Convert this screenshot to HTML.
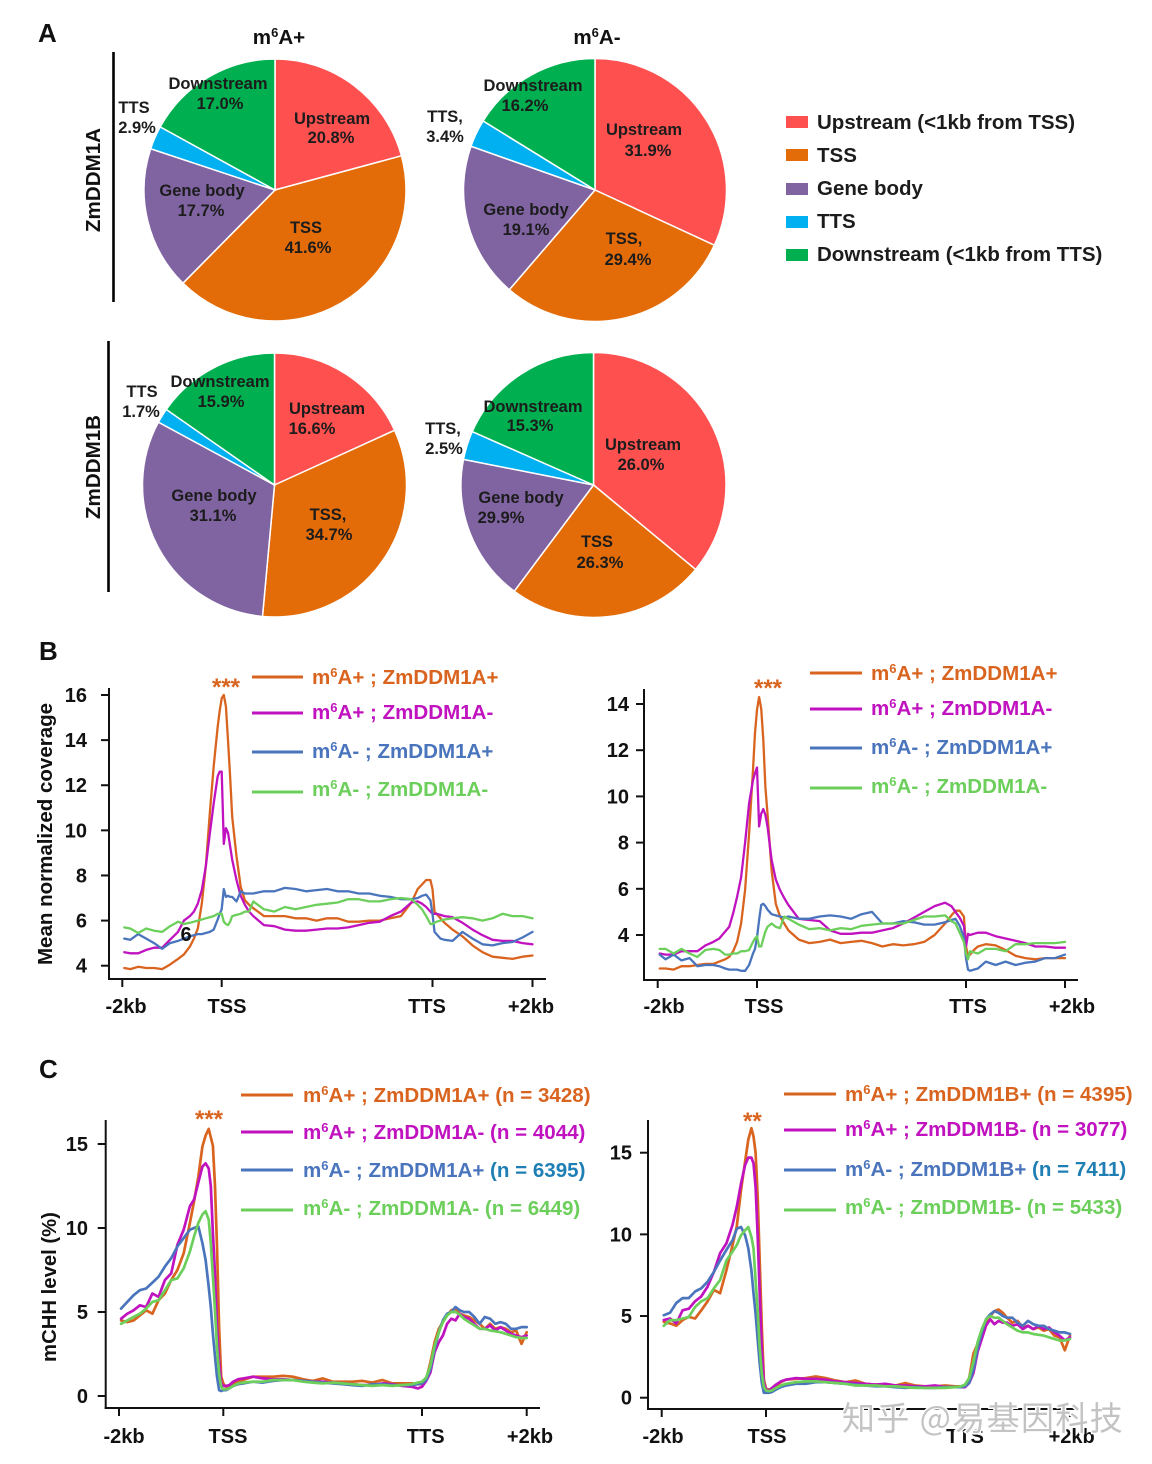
<!DOCTYPE html>
<html lang="en">
<head>
<meta charset="utf-8">
<title>m6A and ZmDDM1 chart figure</title>
<style>
html,body{margin:0;padding:0;background:#fff}
svg{display:block}
text{font-family:"Liberation Sans","Noto Sans CJK SC",sans-serif;font-weight:bold}
.pl{font-size:16.5px;fill:#1c1c1c;text-anchor:middle}
.lg{font-size:20.55px}
.lgp{font-size:20.5px;fill:#1c1c1c}
.head{font-size:20.6px;fill:#111;text-anchor:middle}
.letter{font-size:26px;fill:#111}
</style>
</head>
<body>
<svg id="figure" xmlns="http://www.w3.org/2000/svg" width="1152" height="1464" viewBox="0 0 1152 1464">
<rect width="1152" height="1464" fill="#fff"/>
<g id="pies"></g>
<g id="charts"></g>

<text class="letter" x="38" y="42">A</text>
<text class="letter" x="39" y="660">B</text>
<text class="letter" x="39" y="1078">C</text>

<text class="head" x="279" y="44">m<tspan dy="-7" font-size="13">6</tspan><tspan dy="7">A+</tspan></text>
<text class="head" x="597" y="44">m<tspan dy="-7" font-size="13">6</tspan><tspan dy="7">A-</tspan></text>

<line x1="113.5" y1="52" x2="113.5" y2="302" stroke="#000" stroke-width="2.6"/>
<line x1="108.5" y1="341" x2="108.5" y2="592" stroke="#000" stroke-width="2.6"/>
<text class="head" transform="translate(100,180) rotate(-90)" x="0" y="0">ZmDDM1A</text>
<text class="head" transform="translate(100,467) rotate(-90)" x="0" y="0">ZmDDM1B</text>

<g>
<text class="pl" x="218" y="89">Downstream</text><text class="pl" x="220" y="109">17.0%</text>
<text class="pl" x="332" y="124">Upstream</text><text class="pl" x="331" y="143">20.8%</text>
<text class="pl" x="134" y="113">TTS</text><text class="pl" x="137" y="133">2.9%</text>
<text class="pl" x="202" y="196">Gene body</text><text class="pl" x="201" y="216">17.7%</text>
<text class="pl" x="306" y="233">TSS</text><text class="pl" x="308" y="253">41.6%</text>
</g>
<g>
<text class="pl" x="533" y="91">Downstream</text><text class="pl" x="525" y="111">16.2%</text>
<text class="pl" x="445" y="122">TTS,</text><text class="pl" x="445" y="142">3.4%</text>
<text class="pl" x="644" y="135">Upstream</text><text class="pl" x="648" y="156">31.9%</text>
<text class="pl" x="526" y="215">Gene body</text><text class="pl" x="526" y="235">19.1%</text>
<text class="pl" x="624" y="244">TSS,</text><text class="pl" x="628" y="265">29.4%</text>
</g>
<g>
<text class="pl" x="142" y="397">TTS</text><text class="pl" x="141" y="417">1.7%</text>
<text class="pl" x="220" y="387">Downstream</text><text class="pl" x="221" y="407">15.9%</text>
<text class="pl" x="327" y="414">Upstream</text><text class="pl" x="312" y="434">16.6%</text>
<text class="pl" x="214" y="501">Gene body</text><text class="pl" x="213" y="521">31.1%</text>
<text class="pl" x="328" y="520">TSS,</text><text class="pl" x="329" y="540">34.7%</text>
</g>
<g>
<text class="pl" x="533" y="412">Downstream</text><text class="pl" x="530" y="431">15.3%</text>
<text class="pl" x="443" y="434">TTS,</text><text class="pl" x="444" y="454">2.5%</text>
<text class="pl" x="643" y="450">Upstream</text><text class="pl" x="641" y="470">26.0%</text>
<text class="pl" x="521" y="503">Gene body</text><text class="pl" x="501" y="523">29.9%</text>
<text class="pl" x="597" y="547">TSS</text><text class="pl" x="600" y="568">26.3%</text>
</g>

<g>
<rect x="786" y="116" width="22" height="12" fill="#ff5050"/><text class="lgp" x="817" y="129">Upstream (&lt;1kb from TSS)</text>
<rect x="786" y="149" width="22" height="12" fill="#e36c09"/><text class="lgp" x="817" y="162">TSS</text>
<rect x="786" y="183" width="22" height="12" fill="#8064a2"/><text class="lgp" x="817" y="195">Gene body</text>
<rect x="786" y="216" width="22" height="12" fill="#00b0f0"/><text class="lgp" x="817" y="228">TTS</text>
<rect x="786" y="249" width="22" height="12" fill="#00b050"/><text class="lgp" x="817" y="261">Downstream (&lt;1kb from TTS)</text>
</g>

<text transform="translate(52,834) rotate(-90)" text-anchor="middle" font-size="20.5" fill="#111">Mean normalized coverage</text>
<text transform="translate(56,1287) rotate(-90)" text-anchor="middle" font-size="20.3" fill="#111">mCHH level (%)</text>
<text x="186" y="941" text-anchor="middle" font-size="20" fill="#111">6</text>

<text x="212" y="695" font-size="24" fill="#d9641f">***</text>
<text x="754" y="696" font-size="24" fill="#d9641f">***</text>
<text x="195" y="1127" font-size="24" fill="#d9641f">***</text>
<text x="743" y="1129" font-size="24" fill="#d9641f">**</text>

<g>
<line x1="252" x2="303" y1="677" y2="677" stroke="#d9641f" stroke-width="3"/><text class="lg" x="312" y="684" fill="#d9641f">m<tspan dy="-7" font-size="13">6</tspan><tspan dy="7">A+ ; ZmDDM1A+</tspan></text>
<line x1="252" x2="303" y1="713" y2="713" stroke="#c012bf" stroke-width="3"/><text class="lg" x="312" y="719" fill="#c012bf">m<tspan dy="-7" font-size="13">6</tspan><tspan dy="7">A+ ; ZmDDM1A-</tspan></text>
<line x1="252" x2="303" y1="752" y2="752" stroke="#4a75bd" stroke-width="3"/><text class="lg" x="312" y="758" fill="#4a75bd">m<tspan dy="-7" font-size="13">6</tspan><tspan dy="7">A- ; ZmDDM1A+</tspan></text>
<line x1="252" x2="303" y1="792" y2="792" stroke="#6ccf5b" stroke-width="3"/><text class="lg" x="312" y="796" fill="#6ccf5b">m<tspan dy="-7" font-size="13">6</tspan><tspan dy="7">A- ; ZmDDM1A-</tspan></text>
</g>
<g>
<line x1="810" x2="862" y1="673" y2="673" stroke="#d9641f" stroke-width="3"/><text class="lg" x="871" y="680" fill="#d9641f">m<tspan dy="-7" font-size="13">6</tspan><tspan dy="7">A+ ; ZmDDM1A+</tspan></text>
<line x1="810" x2="862" y1="709" y2="709" stroke="#c012bf" stroke-width="3"/><text class="lg" x="871" y="715" fill="#c012bf">m<tspan dy="-7" font-size="13">6</tspan><tspan dy="7">A+ ; ZmDDM1A-</tspan></text>
<line x1="810" x2="862" y1="748" y2="748" stroke="#4a75bd" stroke-width="3"/><text class="lg" x="871" y="754" fill="#4a75bd">m<tspan dy="-7" font-size="13">6</tspan><tspan dy="7">A- ; ZmDDM1A+</tspan></text>
<line x1="810" x2="862" y1="788" y2="788" stroke="#6ccf5b" stroke-width="3"/><text class="lg" x="871" y="793" fill="#6ccf5b">m<tspan dy="-7" font-size="13">6</tspan><tspan dy="7">A- ; ZmDDM1A-</tspan></text>
</g>
<g>
<line x1="241" x2="293" y1="1095" y2="1095" stroke="#d9641f" stroke-width="3"/><text class="lg" x="303" y="1102" fill="#d9641f">m<tspan dy="-7" font-size="13">6</tspan><tspan dy="7">A+ ; ZmDDM1A+ (n = 3428)</tspan></text>
<line x1="241" x2="293" y1="1132" y2="1132" stroke="#c012bf" stroke-width="3"/><text class="lg" x="303" y="1139" fill="#c012bf">m<tspan dy="-7" font-size="13">6</tspan><tspan dy="7">A+ ; ZmDDM1A- (n = 4044)</tspan></text>
<line x1="241" x2="293" y1="1170" y2="1170" stroke="#4a75bd" stroke-width="3"/><text class="lg" x="303" y="1177" fill="#4a75bd">m<tspan dy="-7" font-size="13">6</tspan><tspan dy="7">A- ; ZmDDM1A+ </tspan><tspan fill="#1f7fb5">(n = 6395)</tspan></text>
<line x1="241" x2="293" y1="1210" y2="1210" stroke="#6ccf5b" stroke-width="3"/><text class="lg" x="303" y="1215" fill="#6ccf5b">m<tspan dy="-7" font-size="13">6</tspan><tspan dy="7">A- ; ZmDDM1A- (n = 6449)</tspan></text>
</g>
<g>
<line x1="784" x2="836" y1="1094" y2="1094" stroke="#d9641f" stroke-width="3"/><text class="lg" x="845" y="1101" fill="#d9641f">m<tspan dy="-7" font-size="13">6</tspan><tspan dy="7">A+ ; ZmDDM1B+ (n = 4395)</tspan></text>
<line x1="784" x2="836" y1="1130" y2="1130" stroke="#c012bf" stroke-width="3"/><text class="lg" x="845" y="1136" fill="#c012bf">m<tspan dy="-7" font-size="13">6</tspan><tspan dy="7">A+ ; ZmDDM1B- (n = 3077)</tspan></text>
<line x1="784" x2="836" y1="1170" y2="1170" stroke="#4a75bd" stroke-width="3"/><text class="lg" x="845" y="1176" fill="#4a75bd">m<tspan dy="-7" font-size="13">6</tspan><tspan dy="7">A- ; ZmDDM1B+ </tspan><tspan fill="#1f7fb5">(n = 7411)</tspan></text>
<line x1="784" x2="836" y1="1210" y2="1210" stroke="#6ccf5b" stroke-width="3"/><text class="lg" x="845" y="1214" fill="#6ccf5b">m<tspan dy="-7" font-size="13">6</tspan><tspan dy="7">A- ; ZmDDM1B- (n = 5433)</tspan></text>
</g>

<text x="842" y="1430" font-size="33" letter-spacing="1.4" fill="#bcbcbc" fill-opacity="0.9" stroke="#ffffff" stroke-width="3" paint-order="stroke" style="font-family:'Noto Sans CJK SC','WenQuanYi Zen Hei',sans-serif;font-weight:normal">知乎 @易基因科技</text>
</svg>

<script>
// ---------- pie data: slice shares as drawn in the picture (%) ----------
const pieCategories = ['upstream', 'tss', 'gene-body', 'tts', 'downstream'];
const pieDdm1aPlus = [20.8, 41.6, 17.7, 2.9, 17.0];
const pieDdm1aMinus = [31.9, 29.4, 19.1, 3.4, 16.2];
const pieDdm1bPlus = [18.2, 33.25, 31.45, 1.8, 15.3];
const pieDdm1bMinus = [36.0, 24.2, 17.9, 3.5, 18.4];

// ---------- line chart data ----------
const xTickLabels = ['-2kb', 'TSS', 'TTS', '+2kb'];
const yTicksBLeft = [16, 14, 12, 10, 8, 6, 4];
const yTicksBRight = [14, 12, 10, 8, 6, 4];
const yTicksC = [15, 10, 5, 0];

const binsB = [2,8,16,24,32,40,48,56,62,68,
 72,76,80,84,88,92,96,98,100,102,
 104,106,108,110,114,118,122,126,130,140,
 150,160,170,180,190,200,210,220,230,240,
 250,260,270,280,286,290,294,298,300,302,
 304,308,312,320,330,340,350,360,370,380,
 390,400];

const blOrange = [3.9,3.85,3.95,3.9,3.9,3.85,4.05,4.3,4.5,4.85,
 5.2,5.65,6.75,8.4,10.75,12.85,14.6,15.3,15.85,16,
 15.5,14,12.4,10.6,8.85,7.5,6.9,6.7,6.55,6.2,
 6.2,6.2,6.1,6.1,6.0,6.1,6.1,5.95,5.95,6.0,
 6.0,6.1,6.2,6.8,7.4,7.6,7.8,7.8,7.4,6.4,
 6.3,6.1,5.9,5.6,5.3,4.9,4.6,4.4,4.35,4.3,
 4.4,4.45];
const blMagenta = [4.6,4.55,4.55,4.7,4.8,4.8,5.15,5.5,6.0,6.2,
 6.4,6.75,7.35,8.4,9.85,11.2,12.4,12.6,12.6,9.4,
 10.1,9.9,9.3,8.7,7.8,7.1,6.7,6.4,6.2,5.8,
 5.75,5.6,5.55,5.55,5.6,5.65,5.65,5.7,5.8,5.9,
 5.95,6.2,6.4,6.8,6.85,6.75,6.6,6.4,6.3,6.3,
 6.3,6.25,6.2,6.15,5.9,5.6,5.35,5.15,5.1,5.1,
 5.0,4.95];
const blBlue = [5.2,5.15,5.4,5.2,5.0,4.75,5.0,5.1,5.2,5.3,
 5.35,5.4,5.4,5.45,5.5,5.6,6.05,6.3,6.5,7.4,
 7.05,7.1,7.05,7.05,6.85,7.3,7.2,7.2,7.2,7.3,
 7.3,7.45,7.4,7.3,7.35,7.4,7.3,7.3,7.2,7.2,
 7.1,7.05,6.95,6.95,7.0,7.1,7.15,6.9,6.3,5.5,
 5.4,5.2,5.15,5.1,5.5,5.2,4.95,4.9,5.0,5.05,
 5.25,5.5];
const blGreen = [5.7,5.65,5.45,5.65,5.55,5.5,5.75,5.95,5.85,5.9,
 5.95,6.0,6.05,6.1,6.15,6.2,6.3,6.3,6.3,5.95,
 5.85,5.8,5.95,6.2,6.25,6.3,6.4,6.4,6.85,6.5,
 6.4,6.6,6.5,6.6,6.7,6.75,6.8,6.95,6.95,6.85,
 6.85,6.95,7.0,6.95,6.7,6.5,6.2,5.85,5.85,5.9,
 5.95,6.0,6.05,6.1,6.15,6.1,6.0,6.1,6.3,6.2,
 6.2,6.1];

const brOrange = [2.55,2.55,2.5,2.65,2.65,2.7,2.75,2.75,2.85,2.95,
 3.05,3.3,3.7,4.5,5.95,8.4,11.15,12.75,13.75,14.3,
 13.8,12.45,10.4,9.25,6.8,5.35,4.8,4.5,4.2,3.8,
 3.65,3.7,3.8,3.65,3.7,3.75,3.65,3.5,3.6,3.55,
 3.6,3.7,4.0,4.5,4.85,5.05,5.05,4.8,3.5,3.1,
 3.15,3.35,3.5,3.6,3.55,3.35,3.1,3.0,2.95,3.0,
 3.0,3.0];
const brMagenta = [3.2,3.15,3.15,3.3,3.3,3.3,3.55,3.7,3.85,4.15,
 4.35,4.95,5.65,6.5,8,9.7,10.7,11,11.25,8.7,
 9.25,9.45,9.2,8.7,7.25,6.4,5.95,5.6,5.3,4.7,
 4.65,4.6,4.2,4.05,4.05,4.1,4.1,4.2,4.3,4.5,
 4.75,5.0,5.25,5.4,5.25,5.0,4.75,4.4,3.5,4.05,
 4.0,4.05,4.1,4.1,3.95,3.85,3.75,3.65,3.5,3.5,
 3.45,3.45];
const brBlue = [3.15,2.95,3.15,2.9,3,2.65,2.7,2.7,2.65,2.55,
 2.5,2.5,2.5,2.45,2.45,2.7,3.2,3.4,3.9,4.65,
 5.3,5.35,5.25,5.1,4.9,4.85,4.8,4.75,4.8,4.7,
 4.7,4.8,4.85,4.8,4.7,4.9,5.0,4.5,4.5,4.6,
 4.55,4.45,4.45,4.55,4.65,4.7,4.4,3.9,3.0,2.5,
 2.45,2.5,2.55,2.85,2.7,2.85,2.7,2.8,2.85,3.0,
 3.0,3.15];
const brGreen = [3.4,3.4,3.2,3.4,3.2,3.05,3.35,3.4,3.35,3.15,
 3.15,3.2,3.2,3.3,3.3,3.35,3.7,3.85,3.95,3.5,
 3.5,3.85,4.15,4.35,4.5,4.35,4.3,4.8,4.7,4.45,
 4.25,4.3,4.2,4.3,4.25,4.4,4.45,4.5,4.5,4.5,
 4.65,4.8,4.8,4.85,4.6,4.5,4.1,3.7,3.2,2.95,
 3.3,3.25,3.2,3.4,3.4,3.3,3.6,3.6,3.65,3.65,
 3.65,3.7];

const binsC = [2,8,14,20,26,32,38,44,50,56,62,68,72,76,80,83,86,88,90,92,94,96,98,100,
 103,106,110,115,120,130,140,150,160,170,180,190,200,210,220,230,240,250,260,270,280,290,296,300,
 304,308,312,316,320,324,328,332,336,340,345,350,355,360,365,370,375,380,385,390,395,400];

const clOrange = [4.5,4.4,4.5,4.8,5.1,4.9,5.7,6.1,6.9,7.5,8.5,10.3,11.6,13.05,14.85,15.5,15.9,15.4,14.9,12.5,8.9,4.1,1.15,.75,
 .5,.55,.75,.9,.95,1.15,1.15,1.15,1.2,1.15,1.0,.9,1.05,.85,.85,.85,.9,.8,.95,.75,.75,.75,.7,.7,
 1.0,2.0,3.2,4.0,4.4,4.8,5.1,5.2,4.9,4.8,4.7,4.5,4.3,4.0,4.3,4.0,4.1,4.0,3.8,3.9,3.1,3.8];
const clMagenta = [4.6,4.9,5.1,5.4,5.3,6.1,5.9,6.9,7.3,9.0,9.9,11.3,11.7,12.7,13.65,13.85,13.55,12.5,9.7,7.3,4.1,2.1,.75,.6,
 .6,.65,.85,1.0,1.05,1.15,1.05,1.0,1.0,.95,.9,.85,.85,.8,.75,.7,.65,.65,.75,.7,.6,.55,.45,.55,
 .9,1.4,2.6,3.2,3.6,4.3,4.6,4.5,4.9,4.7,4.6,4.3,4.0,4.0,4.2,3.9,4.1,3.9,3.7,3.6,3.5,3.6];
const clBlue = [5.2,5.6,6.0,6.3,6.4,6.75,7.1,7.7,8.2,8.9,9.4,9.9,10.0,10.1,9.1,8.1,6.5,5.3,3.7,2.35,1.15,.35,.3,.35,
 .35,.45,.6,.7,.75,.85,.8,.9,.95,.95,.9,.85,.8,.75,.7,.65,.6,.7,.7,.65,.65,.65,.7,.75,
 .95,1.6,2.8,3.8,4.5,4.9,5.0,5.3,5.1,5.0,5.0,4.7,4.3,4.7,4.6,4.3,4.4,4.3,4.0,4.0,4.1,4.1];
const clGreen = [4.3,4.5,4.7,4.9,5.2,5.6,5.7,6.3,6.9,7.0,7.6,8.6,9.5,10.3,10.8,11.0,10.5,9.1,7.1,5.1,2.9,1.35,.55,.4,
 .4,.45,.6,.75,.8,.85,.85,.95,.95,.95,.85,.8,.75,.8,.75,.7,.65,.6,.65,.6,.65,.7,.8,.85,
 1.1,1.8,3.0,3.8,4.4,4.8,5.0,5.0,4.85,4.6,4.4,4.2,4.0,4.0,3.9,3.85,3.8,3.7,3.6,3.5,3.45,3.45];

const crOrange = [4.65,4.55,4.4,4.75,4.95,4.85,5.35,5.9,6.6,6.4,7.8,9.35,10.5,12.7,14.45,15.8,16.5,16,15,12.3,8.4,4.35,1.1,.55,
 .5,.55,.75,.95,1.1,1.15,1.2,1.3,1.2,1.05,.95,1.05,.85,.8,.8,.75,.9,.75,.7,.7,.75,.7,.7,.75,
 1.2,2.7,3.3,3.9,4.6,5.0,5.3,5.4,5.2,4.9,4.6,4.7,4.3,4.4,4.2,4.3,4.1,4.2,3.8,3.7,2.9,3.8];
const crMagenta = [4.75,4.85,4.55,5.35,5.45,5.9,6.2,6.8,7.7,8.85,9.45,10.6,11.7,13.1,14.25,14.7,14.7,14.35,12.9,9.85,6.4,2.9,.9,.5,
 .45,.6,.8,1.0,1.1,1.2,1.15,1.15,1.1,1.0,.95,.9,.85,.8,.85,.75,.75,.7,.7,.75,.65,.65,.65,.65,
 .9,1.5,2.8,3.6,4.4,4.8,4.5,4.7,4.6,4.6,4.4,4.5,4.2,4.4,4.2,4.4,4.2,4.3,4.0,3.8,3.5,3.7];
const crBlue = [5.05,5.2,5.8,6.1,6.1,6.5,6.7,7.1,7.7,8.4,9.05,9.65,10.35,10.45,9.95,9.15,7.8,6.4,5.15,3.55,2.1,.9,.3,.3,
 .3,.35,.5,.65,.75,.85,.85,.95,.95,.9,.85,.8,.75,.7,.7,.65,.6,.65,.6,.6,.65,.65,.65,.7,
 .9,1.7,3.0,4.0,4.8,5.1,5.3,5.2,5.0,4.9,4.9,4.6,4.4,4.7,4.5,4.4,4.4,4.2,4.1,4.0,4.0,3.9];
const crGreen = [4.4,4.75,4.75,4.85,4.95,5.55,5.9,6.1,6.7,7.2,8.4,8.95,9.35,9.95,10.25,10.45,9.85,9.15,7.2,5.35,3.1,1.5,.65,.45,
 .4,.45,.6,.75,.85,.95,1.0,1.0,.95,.9,.85,.75,.75,.75,.7,.7,.65,.6,.6,.6,.6,.65,.7,.8,
 1.2,2.2,3.4,4.2,4.8,5.0,4.9,4.9,4.7,4.5,4.3,4.1,4.0,4.0,3.9,3.85,3.8,3.7,3.6,3.5,3.5,3.6];

// ---------- rendering ----------
const NS = 'http://www.w3.org/2000/svg';
const pieColors = ['#ff5050', '#e36c09', '#8064a2', '#00b0f0', '#00b050'];
const seriesColors = { orange: '#d9641f', magenta: '#c012bf', blue: '#4a75bd', green: '#6ccf5b' };

function mk(tag, attrs, parent) {
  const el = document.createElementNS(NS, tag);
  for (const k in attrs) el.setAttribute(k, attrs[k]);
  parent.appendChild(el);
  return el;
}

function drawPie(values, cx, cy, r, name) {
  const host = document.getElementById('pies');
  const g = mk('g', {}, host);
  
  
  const total = values.reduce((a, b) => a + b, 0);
  let acc = 0;
  values.forEach((v, i) => {
    const a0 = acc / total * 2 * Math.PI;
    acc += v;
    const a1 = acc / total * 2 * Math.PI;
    const x0 = cx + r * Math.sin(a0), y0 = cy - r * Math.cos(a0);
    const x1 = cx + r * Math.sin(a1), y1 = cy - r * Math.cos(a1);
    const large = a1 - a0 > Math.PI ? 1 : 0;
    const p = mk('path', {
      d: 'M' + cx + ' ' + cy + 'L' + x0 + ' ' + y0 + 'A' + r + ' ' + r + ' 0 ' + large + ' 1 ' + x1 + ' ' + y1 + 'Z',
      fill: pieColors[i], stroke: '#fff', 'stroke-width': 1.5
    }, g);
    
    
  });
}
drawPie(pieDdm1aPlus, 275, 190, 131, 'pie-zmddm1a-m6a-plus');
drawPie(pieDdm1aMinus, 595, 190, 131.5, 'pie-zmddm1a-m6a-minus');
drawPie(pieDdm1bPlus, 274.5, 485, 132, 'pie-zmddm1b-m6a-plus');
drawPie(pieDdm1bMinus, 593.5, 485, 132.5, 'pie-zmddm1b-m6a-minus');

function drawChart(cfg) {
  const host = document.getElementById('charts');
  const g = mk('g', {}, host);
  
  

  const dom = [0, 100, 300, 400];
  const xScale = d => {
    let i = 0;
    while (i < 2 && d > dom[i + 1]) i++;
    return cfg.xPx[i] + (d - dom[i]) / (dom[i + 1] - dom[i]) * (cfg.xPx[i + 1] - cfg.xPx[i]);
  };
  const yScale = v => cfg.yB[1] + (v - cfg.yB[0]) / (cfg.yA[0] - cfg.yB[0]) * (cfg.yA[1] - cfg.yB[1]);

  const yAxis = mk('line', { x1: cfg.axisX, x2: cfg.axisX, y1: cfg.top, y2: cfg.axisY + 1, stroke: '#111', 'stroke-width': 2 }, g);
  
  
  const xAxis = mk('line', { x1: cfg.axisX - 1, x2: cfg.right, y1: cfg.axisY, y2: cfg.axisY, stroke: '#111', 'stroke-width': 2 }, g);
  
  

  cfg.yTicks.forEach(t => {
    const y = yScale(t);
    const tick = mk('line', { x1: cfg.axisX - 8, x2: cfg.axisX, y1: y, y2: y, stroke: '#111', 'stroke-width': 2 }, g);
    
    
    const lab = mk('text', { x: cfg.yLabelX, y: y + 7, 'text-anchor': 'end', 'font-size': 20, fill: '#111' }, g);
    lab.textContent = String(t);
    
    
  });
  xTickLabels.forEach((t, i) => {
    const x = xScale(dom[i]);
    const tick = mk('line', { x1: x, x2: x, y1: cfg.axisY, y2: cfg.axisY + 8, stroke: '#111', 'stroke-width': 2 }, g);
    
    
    const lab = mk('text', { x: x + cfg.labelShift[i], y: cfg.labelBase, 'text-anchor': 'middle', 'font-size': 20, fill: '#111' }, g);
    lab.textContent = t;
    
    
  });

  cfg.series.forEach(s => {
    const d = cfg.bins.map((b, i) => (i ? 'L' : 'M') + xScale(b).toFixed(1) + ' ' + yScale(s.values[i]).toFixed(1)).join('');
    const path = mk('path', { d: d, fill: 'none', stroke: s.color, 'stroke-width': cfg.lineWidth, 'stroke-linejoin': 'round', 'stroke-linecap': 'round' }, g);
    
    
  });
}

function seriesOf(o, m, b, gr) {
  return [
    { key: 'm6a-plus-ddm1-plus', color: seriesColors.orange, values: o },
    { key: 'm6a-plus-ddm1-minus', color: seriesColors.magenta, values: m },
    { key: 'm6a-minus-ddm1-plus', color: seriesColors.blue, values: b },
    { key: 'm6a-minus-ddm1-minus', color: seriesColors.green, values: gr }
  ];
}

drawChart({ name: 'chart-coverage-ddm1a-left', bins: binsB, series: seriesOf(blOrange, blMagenta, blBlue, blGreen), lineWidth: 2.3,
  xPx: [122.3, 221.7, 432.5, 532.5], yTicks: yTicksBLeft, yA: [16, 695], yB: [4, 965.7], axisX: 109, axisY: 979, top: 688, right: 546,
  yLabelX: 87, labelBase: 1013, labelShift: [3.7, 5.3, -5.5, -1.5] });
drawChart({ name: 'chart-coverage-ddm1a-right', bins: binsB, series: seriesOf(brOrange, brMagenta, brBlue, brGreen), lineWidth: 2.3,
  xPx: [657.7, 757, 966, 1065], yTicks: yTicksBRight, yA: [14, 704], yB: [4, 935], axisX: 644, axisY: 980, top: 689, right: 1078,
  yLabelX: 629, labelBase: 1013, labelShift: [6.3, 7, 2, 7] });
drawChart({ name: 'chart-mchh-ddm1a', bins: binsC, series: seriesOf(clOrange, clMagenta, clBlue, clGreen), lineWidth: 2.7,
  xPx: [119, 223.3, 422, 526.7], yTicks: yTicksC, yA: [15, 1144], yB: [0, 1396], axisX: 105.7, axisY: 1408, top: 1120, right: 540,
  yLabelX: 88, labelBase: 1443, labelShift: [5, 4.7, 3.7, 3.3] });
drawChart({ name: 'chart-mchh-ddm1b', bins: binsC, series: seriesOf(crOrange, crMagenta, crBlue, crGreen), lineWidth: 2.7,
  xPx: [661.7, 766, 965, 1070], yTicks: yTicksC, yA: [15, 1152.7], yB: [0, 1397.7], axisX: 648, axisY: 1409, top: 1120, right: 1081,
  yLabelX: 632, labelBase: 1443, labelShift: [1.3, 1, 0, 1.7] });
</script>
</body>
</html>
